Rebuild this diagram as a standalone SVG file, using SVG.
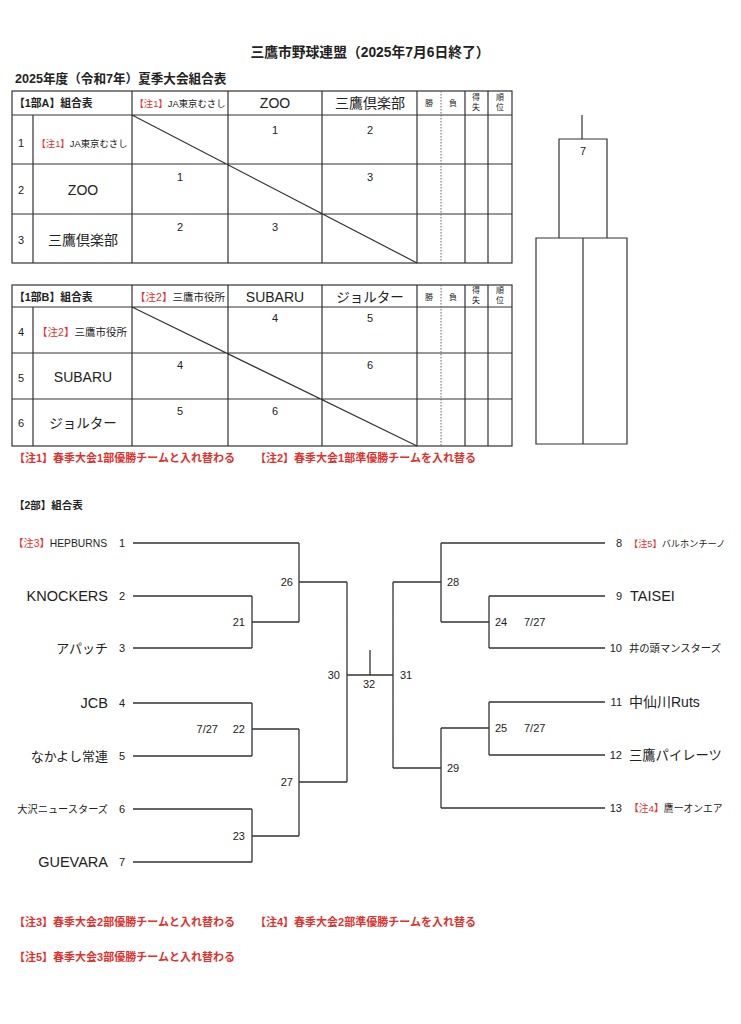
<svg xmlns="http://www.w3.org/2000/svg" width="741" height="1024" viewBox="0 0 741 1024">
<style>
text{font-family:"Liberation Sans","Noto Sans CJK JP",sans-serif;fill:#222}
.b{font-weight:bold}
.r{fill:#e0302c}
.rb{fill:#e0302c;font-weight:bold}
.c{text-anchor:middle}
.e{text-anchor:end}
.tl{stroke:#333;stroke-width:1.2;fill:none}
.dl{stroke:#666;stroke-width:1;stroke-dasharray:1.5 1.5;fill:none}
.bl{stroke:#333;stroke-width:1.3;fill:none}
.n{font-size:11px}
.s{font-size:8px}
</style>
<rect width="741" height="1024" fill="#fff"/>
<g id="titles">
<text x="370" y="57" class="b c" font-size="13.8">三鷹市野球連盟（2025年7月6日終了）</text>
<text x="15" y="83" class="b" font-size="12.6">2025年度（令和7年）夏季大会組合表</text>
</g>
<g id="tableA">
<rect x="12" y="91" width="500" height="172" class="tl"/>
<path class="tl" d="M12 115H512M12 164H512M12 214H512M33 115V263M132 91V263M228 91V263M322 91V263M417 91V263M465 91V263M488 91V263M132 115L417 263"/>
<path class="dl" d="M441 91V263"/>
<text x="14" y="107" class="b" font-size="10.8">【1部A】組合表</text>
<text x="180" y="107" class="c" font-size="9.4"><tspan class="r">【注1】</tspan>JA東京むさし</text>
<text x="275" y="108" class="c" font-size="14">ZOO</text>
<text x="370" y="108" class="c" font-size="14">三鷹倶楽部</text>
<text x="429" y="106" class="c s">勝</text>
<text x="453" y="106" class="c s">負</text>
<text x="476" y="100" class="c s">得</text><text x="476" y="110" class="c s">失</text>
<text x="500" y="100" class="c s">順</text><text x="500" y="110" class="c s">位</text>
<text x="21" y="147" class="c n">1</text>
<text x="82" y="147" class="c" font-size="9.4"><tspan class="r">【注1】</tspan>JA東京むさし</text>
<text x="21" y="194" class="c n">2</text>
<text x="83" y="195" class="c" font-size="14">ZOO</text>
<text x="21" y="244" class="c n">3</text>
<text x="83" y="245" class="c" font-size="14">三鷹倶楽部</text>
<text x="275" y="134" class="c n">1</text>
<text x="370" y="134" class="c n">2</text>
<text x="180" y="181" class="c n">1</text>
<text x="370" y="181" class="c n">3</text>
<text x="180" y="231" class="c n">2</text>
<text x="275" y="231" class="c n">3</text>
</g>
<g id="tableB">
<rect x="12" y="285" width="500" height="161" class="tl"/>
<path class="tl" d="M12 307H512M12 353H512M12 399H512M33 307V446M132 285V446M228 285V446M322 285V446M417 285V446M465 285V446M488 285V446M132 307L417 446"/>
<path class="dl" d="M441 285V446"/>
<text x="14" y="301" class="b" font-size="10.8">【1部B】組合表</text>
<text x="180" y="301" class="c" font-size="10.5"><tspan class="r">【注2】</tspan>三鷹市役所</text>
<text x="275" y="302" class="c" font-size="14">SUBARU</text>
<text x="370" y="302" class="c" font-size="13.5">ジョルター</text>
<text x="429" y="300" class="c s">勝</text>
<text x="453" y="300" class="c s">負</text>
<text x="476" y="293" class="c s">得</text><text x="476" y="303" class="c s">失</text>
<text x="500" y="293" class="c s">順</text><text x="500" y="303" class="c s">位</text>
<text x="21" y="336" class="c n">4</text>
<text x="82" y="336" class="c" font-size="10.5"><tspan class="r">【注2】</tspan>三鷹市役所</text>
<text x="21" y="382" class="c n">5</text>
<text x="83" y="382" class="c" font-size="14">SUBARU</text>
<text x="21" y="427" class="c n">6</text>
<text x="83" y="428" class="c" font-size="13.5">ジョルター</text>
<text x="275" y="322" class="c n">4</text>
<text x="370" y="322" class="c n">5</text>
<text x="180" y="369" class="c n">4</text>
<text x="370" y="369" class="c n">6</text>
<text x="180" y="415" class="c n">5</text>
<text x="275" y="415" class="c n">6</text>
</g>
<g id="notes1">
<text x="14" y="462" class="rb" font-size="11">【注1】春季大会1部優勝チームと入れ替わる</text>
<text x="255" y="462" class="rb" font-size="11">【注2】春季大会1部準優勝チームを入れ替る</text>
</g>
<g id="finalBox">
<path class="tl" d="M582 115V139M559 139H607V238H559ZM536 238H627V444H536ZM583 238V444"/>
<text x="583" y="155" class="c n">7</text>
</g>
<g id="div2title">
<text x="14" y="509" class="b" font-size="10.5">【2部】組合表</text>
</g>
<g id="connectors">
<path class="bl" d="M133 543H299M133 596H252M133 648H252M252 596V648M252 622H299M299 543V622M299 582H347M133 703H252M133 756H252M252 703V756M252 729H299M133 809H252M133 862H252M252 809V862M252 836H299M299 729V836M299 782H347M347 582V782M347 675H393M370 650V675"/>
<path class="bl" d="M605 543H441M605 596H489M605 648H489M489 596V648M489 622H441M441 543V622M441 582H393M605 702H489M605 755H489M489 702V755M489 728H441M605 808H441M441 728V808M441 768H393M393 582V768"/>
</g>
<g id="teamsLeft">
<text x="107" y="547" class="e" font-size="10.3"><tspan class="r">【注3】</tspan>HEPBURNS</text>
<text x="125" y="547" class="e n">1</text>
<text x="108" y="601" class="e" font-size="14.5">KNOCKERS</text>
<text x="125" y="600" class="e n">2</text>
<text x="108" y="653" class="e" font-size="13">アパッチ</text>
<text x="125" y="652" class="e n">3</text>
<text x="108" y="708" class="e" font-size="14.5">JCB</text>
<text x="125" y="707" class="e n">4</text>
<text x="108" y="761" class="e" font-size="13">なかよし常連</text>
<text x="125" y="760" class="e n">5</text>
<text x="108" y="813" class="e" font-size="10.2">大沢ニュースターズ</text>
<text x="125" y="813" class="e n">6</text>
<text x="108" y="867" class="e" font-size="14.5">GUEVARA</text>
<text x="125" y="866" class="e n">7</text>
</g>
<g id="teamsRight">
<text x="622" y="547" class="e n">8</text>
<text x="629" y="547" font-size="9.2"><tspan class="r">【注5】</tspan>バルホンチーノ</text>
<text x="622" y="600" class="e n">9</text>
<text x="630" y="601" font-size="14.5">TAISEI</text>
<text x="622" y="652" class="e n">10</text>
<text x="629" y="652" font-size="10.3">井の頭マンスターズ</text>
<text x="622" y="706" class="e n">11</text>
<text x="629" y="707" font-size="14">中仙川Ruts</text>
<text x="622" y="759" class="e n">12</text>
<text x="629" y="760" font-size="13.3">三鷹パイレーツ</text>
<text x="622" y="812" class="e n">13</text>
<text x="629" y="812" font-size="9.8"><tspan class="r">【注4】</tspan>鷹ーオンエア</text>
</g>
<g id="matchLabels">
<text x="293" y="586" class="e n">26</text>
<text x="245" y="626" class="e n">21</text>
<text x="340" y="679" class="e n">30</text>
<text x="218" y="733" class="e n">7/27</text>
<text x="245" y="733" class="e n">22</text>
<text x="293" y="786" class="e n">27</text>
<text x="245" y="840" class="e n">23</text>
<text x="447" y="586" class="n">28</text>
<text x="495" y="626" class="n">24</text>
<text x="524" y="626" class="n">7/27</text>
<text x="400" y="679" class="n">31</text>
<text x="363" y="688" class="n">32</text>
<text x="495" y="732" class="n">25</text>
<text x="524" y="732" class="n">7/27</text>
<text x="447" y="772" class="n">29</text>
</g>
<g id="notes2">
<text x="14" y="926" class="rb" font-size="11">【注3】春季大会2部優勝チームと入れ替わる</text>
<text x="255" y="926" class="rb" font-size="11">【注4】春季大会2部準優勝チームを入れ替る</text>
<text x="14" y="961" class="rb" font-size="11">【注5】春季大会3部優勝チームと入れ替わる</text>
</g>
</svg>
